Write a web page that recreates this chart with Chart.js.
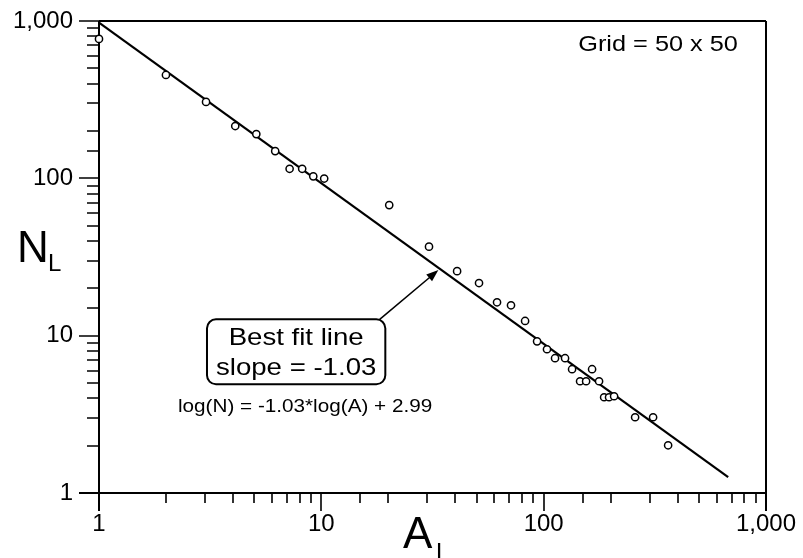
<!DOCTYPE html>
<html><head><meta charset="utf-8">
<script src="https://cdn.jsdelivr.net/npm/chart.js@4.4.0/dist/chart.umd.min.js"></script>
<style>html,body{margin:0;padding:0;background:#fff;}canvas{display:block;}</style>
</head><body>
<canvas id="c" width="803" height="558"></canvas>
<script>
// ---- data ----
const areaL  = [1, 2, 3.03, 4.1, 5.1, 6.2, 7.2, 8.2, 9.2, 10.3, 20.2, 30.5, 40.8, 51.2, 61.7, 71.3, 82.5, 93.4, 103.5, 112.5, 124.8, 134.2, 145.8, 155.2, 165.1, 177.5, 187, 196.8, 207.4, 257.8, 310.6, 362.9];
const countN = [769, 454, 306, 215, 191, 149, 115, 115, 103, 99.7, 67.6, 36.8, 25.7, 21.6, 16.3, 15.6, 12.4, 9.2, 8.2, 7.19, 7.19, 6.12, 5.13, 5.13, 6.12, 5.13, 4.06, 4.06, 4.12, 3.03, 3.03, 2.01];
const fitA = [1, 676];
const fitN = [975, 1.26];
const majorTicks = [1, 10, 100, 1000];
const majorLabels = ['1', '10', '100', '1,000'];
const fitLabel = ['Best fit line', 'slope = -1.03'];
const fitEquation = 'log(N) = -1.03*log(A) + 2.99';
const gridNote = 'Grid = 50 x 50';
// annotation anchors in data units
const boxA = [3.06, 19.4], boxN = [12.7, 4.91];
const arrowFrom = [18.3, 12.7], arrowTo = [33.6, 26.1];
const eqAt = [8.45, 3.51];
const gridAt = [327, 705];

const FONT = "'Liberation Sans', Arial, sans-serif";
const labelFor = v => { const i = majorTicks.indexOf(v); return i >= 0 ? majorLabels[i] : ''; };

function stretchedText(ctx, text, cx, cy, size, sx) {
  ctx.save();
  ctx.translate(cx, cy);
  ctx.scale(sx, 1);
  ctx.font = `${size}px ${FONT}`;
  ctx.textAlign = 'center';
  ctx.textBaseline = 'middle';
  ctx.fillText(text, 0, 0);
  ctx.restore();
}

const framePlugin = {
  id: 'frame',
  beforeDatasetsDraw(chart) {
    const {ctx, chartArea: a, scales: {x, y}} = chart;
    ctx.save();
    ctx.strokeStyle = '#000';
    ctx.lineWidth = 2;
    ctx.beginPath();
    ctx.moveTo(a.left - 20, a.bottom); ctx.lineTo(a.right, a.bottom);
    ctx.moveTo(a.left, a.top); ctx.lineTo(a.left, a.bottom + 18);
    ctx.moveTo(a.left, a.top); ctx.lineTo(a.right, a.top);
    ctx.moveTo(a.right, a.top); ctx.lineTo(a.right, a.bottom + 18);
    ctx.stroke();
    ctx.lineWidth = 1.6;
    ctx.beginPath();
    x.ticks.forEach(t => {
      const px = Math.round(x.getPixelForValue(t.value));
      const len = majorTicks.includes(t.value) ? 18 : 10;
      ctx.moveTo(px, a.bottom); ctx.lineTo(px, a.bottom + len);
    });
    y.ticks.forEach(t => {
      const py = Math.round(y.getPixelForValue(t.value));
      const len = majorTicks.includes(t.value) ? 20 : 12;
      ctx.moveTo(a.left, py); ctx.lineTo(a.left - len, py);
    });
    ctx.stroke();
    ctx.restore();
  },
  afterDatasetsDraw(chart) {
    const {ctx, scales: {x, y}} = chart;
    ctx.save();
    ctx.fillStyle = '#000'; ctx.strokeStyle = '#000';
    // axis titles
    ctx.textBaseline = 'alphabetic';
    ctx.textAlign = 'left';
    ctx.font = `44px ${FONT}`;
    ctx.fillText('N', 17, 262);
    ctx.font = `24px ${FONT}`;
    ctx.fillText('L', 48, 271);
    ctx.font = `44px ${FONT}`;
    ctx.fillText('A', 403, 548);
    ctx.font = `24px ${FONT}`;
    ctx.fillText('L', 436, 560);
    // grid note
    stretchedText(ctx, gridNote, x.getPixelForValue(gridAt[0]), y.getPixelForValue(gridAt[1]), 22, 1.15);
    // box
    const bl = x.getPixelForValue(boxA[0]), br = x.getPixelForValue(boxA[1]);
    const bt = y.getPixelForValue(boxN[0]), bb = y.getPixelForValue(boxN[1]);
    ctx.lineWidth = 2;
    ctx.beginPath();
    ctx.roundRect(bl, bt, br - bl, bb - bt, 9);
    ctx.fillStyle = '#fff'; ctx.fill();
    ctx.stroke();
    ctx.fillStyle = '#000';
    const cx = (bl + br) / 2, h = bb - bt;
    stretchedText(ctx, fitLabel[0], cx, bt + h * 0.30, 24, 1.15);
    stretchedText(ctx, fitLabel[1], cx, bt + h * 0.75, 24, 1.15);
    // equation
    stretchedText(ctx, fitEquation, x.getPixelForValue(eqAt[0]), y.getPixelForValue(eqAt[1]), 18, 1.15);
    // arrow
    const x0 = x.getPixelForValue(arrowFrom[0]), y0 = y.getPixelForValue(arrowFrom[1]);
    const x1 = x.getPixelForValue(arrowTo[0]), y1 = y.getPixelForValue(arrowTo[1]);
    const ang = Math.atan2(y1 - y0, x1 - x0);
    ctx.lineWidth = 1.5;
    ctx.beginPath(); ctx.moveTo(x0, y0); ctx.lineTo(x1 - 8 * Math.cos(ang), y1 - 8 * Math.sin(ang)); ctx.stroke();
    ctx.beginPath();
    ctx.moveTo(x1, y1);
    ctx.lineTo(x1 - 12 * Math.cos(ang) + 4.5 * Math.sin(ang), y1 - 12 * Math.sin(ang) - 4.5 * Math.cos(ang));
    ctx.lineTo(x1 - 12 * Math.cos(ang) - 4.5 * Math.sin(ang), y1 - 12 * Math.sin(ang) + 4.5 * Math.cos(ang));
    ctx.closePath(); ctx.fill();
    ctx.restore();
  }
};

const hiddenGrid = {display: true, drawOnChartArea: false, drawTicks: false, color: 'rgba(0,0,0,0)'};

new Chart(document.getElementById('c'), {
  type: 'scatter',
  data: {
    datasets: [
      {
        label: 'Best fit',
        type: 'line',
        data: fitA.map((v, i) => ({x: v, y: fitN[i]})),
        borderColor: '#000', borderWidth: 2.2, pointRadius: 0, fill: false, clip: false, order: 2
      },
      {
        label: 'Observed',
        data: areaL.map((v, i) => ({x: v, y: countN[i]})),
        pointStyle: 'circle', pointRadius: 3.6, pointBorderWidth: 1.5,
        pointBackgroundColor: '#fff', pointBorderColor: '#000', clip: false, order: 1
      }
    ]
  },
  options: {
    responsive: false,
    animation: false,
    devicePixelRatio: 1,
    layout: {padding: {left: 0, right: 37, top: 21, bottom: 0}},
    plugins: {legend: {display: false}, tooltip: {enabled: false}},
    scales: {
      x: {
        type: 'logarithmic', min: 1, max: 1000, position: 'bottom',
        grid: hiddenGrid, border: {display: false},
        ticks: {callback: v => labelFor(v), autoSkip: false, maxRotation: 0, color: '#000',
                font: {family: FONT, size: 24}, padding: 17},
        afterFit: s => { s.height = 65; s.paddingLeft = 0; s.paddingRight = 0; }
      },
      y: {
        type: 'logarithmic', min: 1, max: 1000, position: 'left',
        grid: hiddenGrid, border: {display: false},
        ticks: {callback: v => labelFor(v), autoSkip: false, color: '#000',
                font: {family: FONT, size: 24}, padding: 26},
        afterFit: s => { s.width = 99; s.paddingTop = 0; s.paddingBottom = 0; }
      }
    }
  },
  plugins: [framePlugin]
});
</script>
</body></html>
